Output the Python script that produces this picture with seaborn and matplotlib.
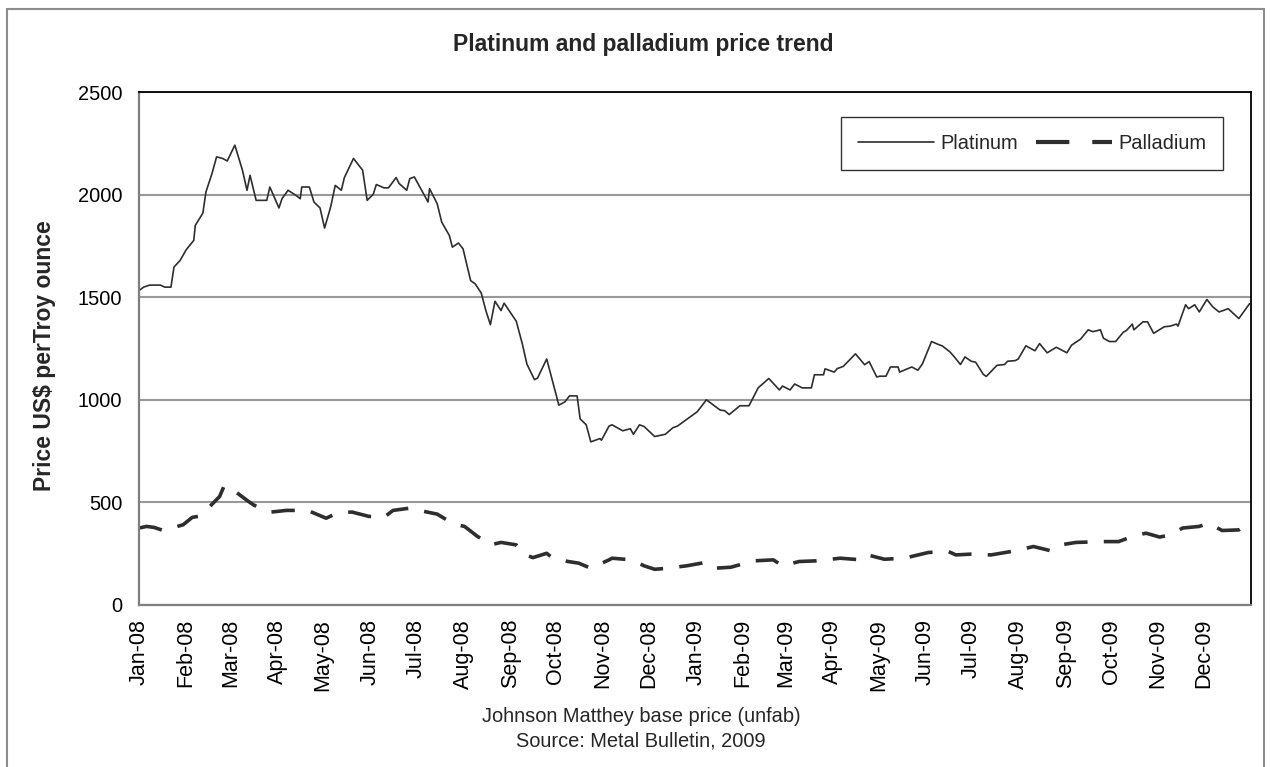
import matplotlib

matplotlib.use("Agg")
import matplotlib.dates as mdates
import matplotlib.pyplot as plt
import pandas as pd
import seaborn as sns
from matplotlib.lines import Line2D
from matplotlib.patches import Rectangle

# Days since 1 Jan 2008 and prices (US$ per troy ounce)
platinum_days = [
    0, 3, 7, 14, 17, 21, 23, 27, 31, 36, 37, 42, 44, 48, 51, 55, 58, 63, 68, 71,
    73, 77, 84, 86, 92, 94, 98, 103, 106, 107, 112, 115, 119, 122, 126, 129, 133,
    135, 141, 147, 150, 154, 156, 161, 164, 169, 171, 176, 178, 181, 187, 190, 191,
    196, 199, 204, 206, 210, 213, 218, 221, 225, 228, 231, 234, 238, 240, 244, 248,
    252, 255, 260, 262, 268, 276, 280, 283, 288, 290, 294, 297, 300, 303, 304, 309,
    311, 318, 323, 325, 329, 332, 339, 346, 351, 354, 367, 373, 382, 385, 388, 395,
    401, 407, 414, 421, 423, 428, 431, 436, 442, 444, 450, 451, 457, 459, 463, 471,
    477, 480, 485, 487, 491, 494, 499, 500, 508, 512, 515, 521, 526, 528, 533, 536,
    540, 543, 547, 550, 555, 557, 564, 569, 571, 576, 578, 583, 589, 592, 597, 603,
    610, 613, 619, 624, 627, 632, 634, 638, 642, 647, 649, 653, 654, 660, 663, 667,
    674, 678, 682, 683, 688, 690, 694, 697, 702, 706, 710, 716, 723, 730,
]
platinum_price = [
    1532, 1549, 1559, 1559, 1549, 1549, 1647, 1679, 1731, 1777, 1850, 1910, 2013,
    2103, 2184, 2176, 2164, 2241, 2119, 2021, 2094, 1972, 1972, 2037, 1935, 1980,
    2021, 1997, 1980, 2037, 2037, 1964, 1935, 1837, 1940, 2045, 2021, 2083, 2176,
    2119, 1972, 2002, 2049, 2033, 2033, 2083, 2054, 2021, 2078, 2086, 2005, 1964,
    2029, 1956, 1866, 1801, 1744, 1764, 1736, 1581, 1565, 1520, 1435, 1366, 1480,
    1435, 1471, 1427, 1383, 1272, 1174, 1098, 1106, 1199, 974, 990, 1019, 1019,
    907, 878, 795, 803, 811, 803, 872, 878, 849, 859, 832, 878, 870, 821, 832, 864,
    872, 942, 1000, 950, 947, 928, 971, 971, 1058, 1104, 1048, 1067, 1048, 1077,
    1058, 1058, 1122, 1122, 1151, 1135, 1152, 1163, 1224, 1171, 1186, 1111, 1115,
    1115, 1160, 1160, 1135, 1160, 1144, 1175, 1284, 1268, 1263, 1234, 1209, 1172,
    1209, 1188, 1183, 1124, 1114, 1168, 1172, 1188, 1191, 1199, 1263, 1239, 1274,
    1229, 1256, 1229, 1266, 1296, 1341, 1332, 1341, 1300, 1284, 1284, 1329, 1337,
    1369, 1341, 1380, 1380, 1324, 1356, 1359, 1369, 1359, 1463, 1444, 1463, 1428,
    1489, 1452, 1428, 1444, 1396, 1468,
]

palladium_days = [
    0, 5, 10, 16, 29, 35, 39, 43, 53, 56, 59, 64, 71, 75, 81, 87, 97, 111, 115,
    123, 128, 134, 140, 151, 161, 167, 178, 184, 196, 207, 214, 222, 231, 238, 248,
    254, 259, 268, 272, 282, 289, 297, 309, 311, 324, 332, 339, 347, 360, 372, 378,
    389, 404, 417, 423, 434, 445, 461, 475, 479, 490, 503, 519, 532, 537, 547, 560,
    576, 588, 599, 605, 616, 634, 644, 654, 662, 671, 678, 686, 697, 703, 712, 723,
    730,
]
palladium_price = [
    375, 383, 378, 363, 391, 427, 432, 453, 529, 581, 570, 549, 510, 489, 467, 453,
    461, 461, 448, 423, 440, 451, 453, 432, 427, 461, 472, 461, 443, 394, 383, 337,
    293, 305, 293, 244, 231, 252, 228, 212, 204, 179, 220, 228, 220, 191, 174, 179,
    191, 207, 179, 184, 215, 220, 191, 212, 215, 228, 220, 244, 223, 228, 256, 261,
    244, 248, 244, 264, 285, 265, 292, 305, 309, 309, 337, 350, 331, 342, 375, 383,
    399, 363, 366, 399,
]

month_ticks = pd.date_range("2008-01-01", "2009-12-01", freq="MS")

start = pd.Timestamp("2008-01-01")
platinum = pd.DataFrame(
    {"date": start + pd.to_timedelta(platinum_days, unit="D"), "price": platinum_price}
)
palladium = pd.DataFrame(
    {"date": start + pd.to_timedelta(palladium_days, unit="D"), "price": palladium_price}
)

W, H = 1271, 767
sns.set_theme(style="white")
plt.rcParams["font.family"] = ["Liberation Sans", "DejaVu Sans"]

fig = plt.figure(figsize=(W / 100, H / 100), dpi=100)
ax = fig.add_axes([139 / W, 1 - 605 / H, (1251 - 139) / W, (605 - 92) / H])

line_color = "#2e2e2e"
pd_dash = (0, (6.5, 4.5))
sns.lineplot(
    data=platinum, x="date", y="price", ax=ax, color=line_color,
    linewidth=1.2, estimator=None,
)
sns.lineplot(
    data=palladium, x="date", y="price", ax=ax, color=line_color,
    linewidth=2.6, linestyle=pd_dash, estimator=None,
)

ax.set_xlim(pd.Timestamp("2008-01-01"), pd.Timestamp("2010-01-01"))
ax.set_ylim(0, 2500)
ax.set_yticks(range(0, 2501, 500))
ax.set_xticks(month_ticks)
ax.xaxis.set_major_formatter(mdates.DateFormatter("%b-%y"))
ax.tick_params(axis="x", labelrotation=90, labelsize=15.5, length=0, pad=10,
               labelcolor="black")
ax.tick_params(axis="y", labelsize=14.4, length=0, pad=12, labelcolor="black")
ax.set_xlabel("")
ax.set_ylabel("")
ax.yaxis.grid(True, color="#999999", linewidth=1.5)
ax.xaxis.grid(False)
ax.set_axisbelow(True)

for side in ["top", "right"]:
    ax.spines[side].set_color("black")
    ax.spines[side].set_linewidth(1.3)
for side in ["left", "bottom"]:
    ax.spines[side].set_color("#7f7f7f")
    ax.spines[side].set_linewidth(1.6)

handles = [
    Line2D([], [], color=line_color, linewidth=1.2),
    Line2D([], [], color=line_color, linewidth=3, linestyle=(0, (8, 5.5))),
]
leg = ax.legend(
    handles, ["Platinum", "Palladium"], ncol=2, loc="upper right",
    bbox_to_anchor=(1223 / W, 1 - 117 / H), bbox_transform=fig.transFigure,
    fontsize=14.4, frameon=True, fancybox=False, framealpha=1,
    edgecolor="#333333", handlelength=3.8, handletextpad=0.3,
    columnspacing=0.9, borderpad=0.85, borderaxespad=0,
)
leg.get_frame().set_linewidth(1.0)

fig.text(643 / W, 1 - 45 / H, "Platinum and palladium price trend",
         ha="center", va="center", fontsize=16.5, fontweight="bold")
fig.text(45 / W, 1 - 356 / H, "Price US$ perTroy ounce", rotation=90,
         ha="center", va="center", fontsize=16.5, fontweight="bold")
fig.text(641 / W, 1 - 717 / H, "Johnson Matthey base price (unfab)",
         ha="center", va="center", fontsize=14.4)
fig.text(641 / W, 1 - 741 / H, "Source: Metal Bulletin, 2009",
         ha="center", va="center", fontsize=14.4)

# outer chart border (its bottom edge falls below the picture)
fig.patches.append(
    Rectangle((7 / W, -0.02), (1264 - 7) / W, 1.02 - 9 / H,
              transform=fig.transFigure, fill=False, edgecolor="#8c8c8c",
              linewidth=1.5)
)

fig.savefig("out.png", dpi=100)
plt.close(fig)
